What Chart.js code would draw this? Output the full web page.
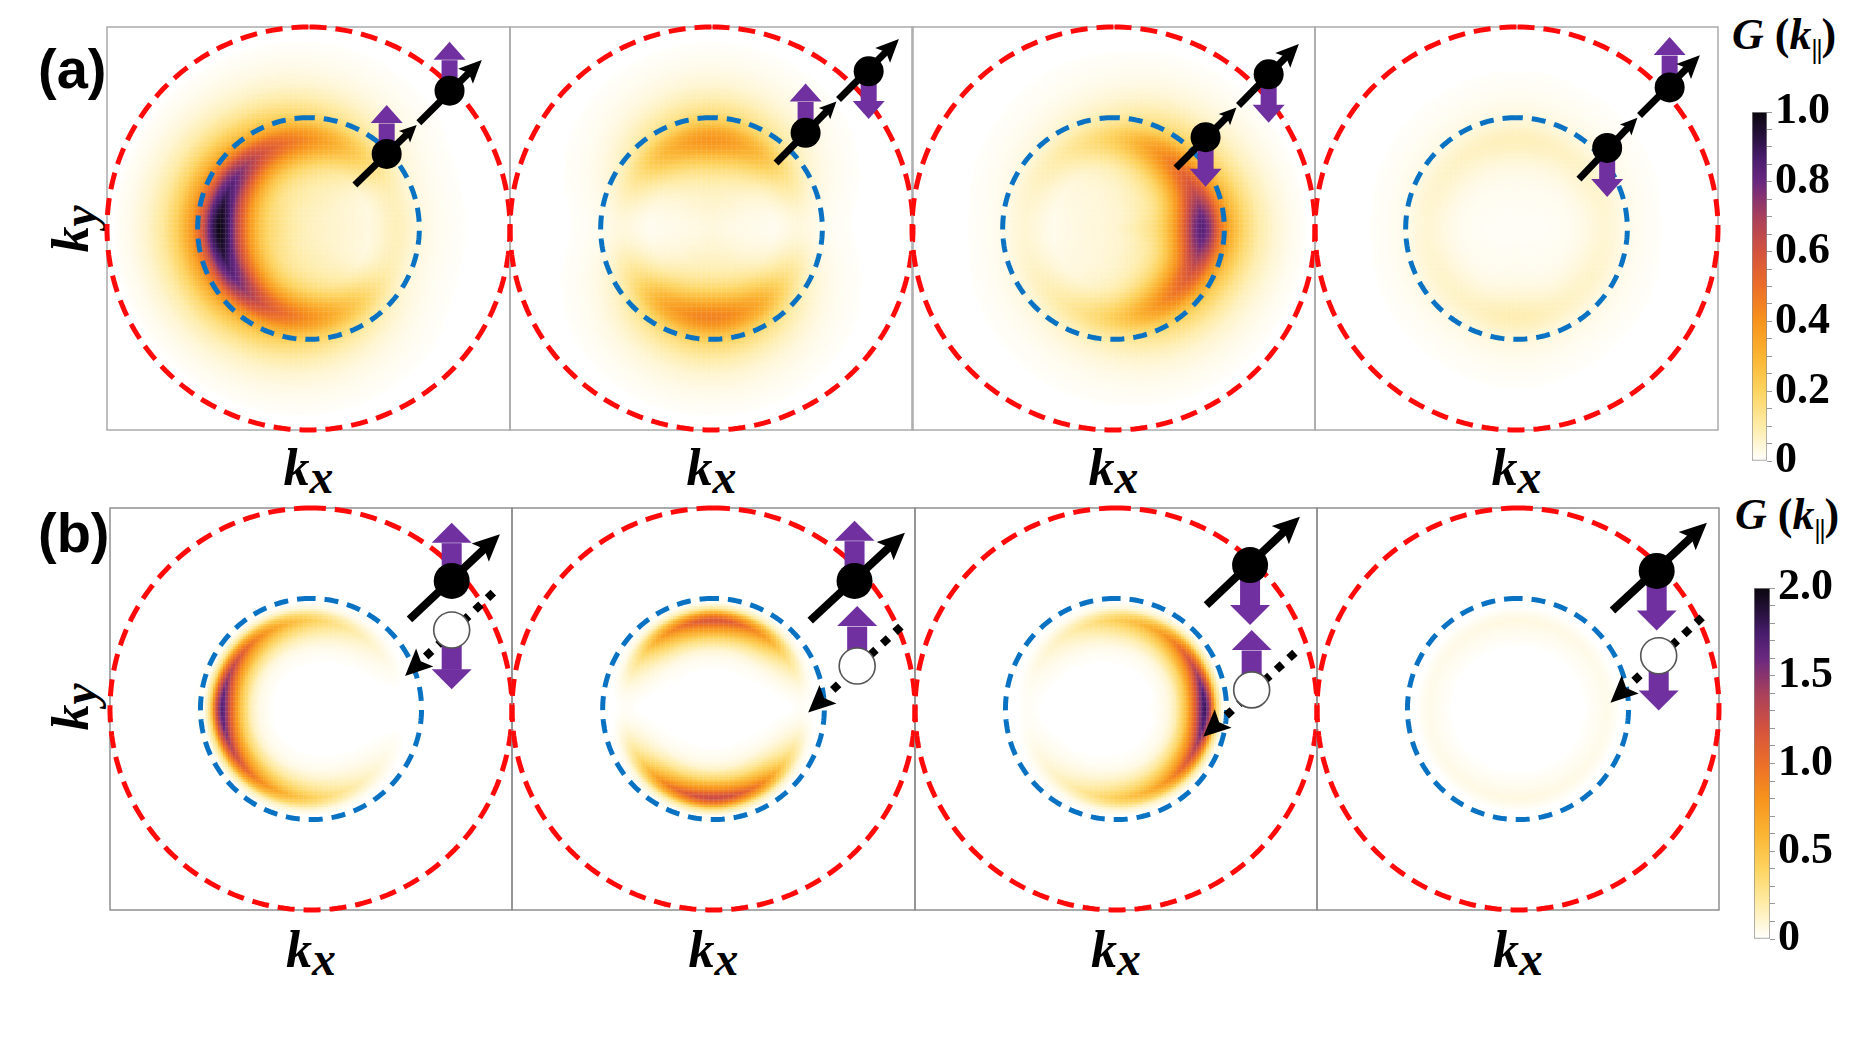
<!DOCTYPE html>
<html><head><meta charset="utf-8">
<script src="https://cdn.jsdelivr.net/npm/chart.js@4.4.1/dist/chart.umd.min.js"></script>
<style>
html,body{margin:0;padding:0;background:#fff;}
body{width:1863px;height:1058px;position:relative;overflow:hidden;}
canvas{position:absolute;}
.t{position:absolute;white-space:nowrap;color:#000;line-height:1;}
.pl{font-family:'Liberation Sans',Arial,sans-serif;font-weight:700;font-size:56px;}
.kk{font-family:'Liberation Serif','Times New Roman',serif;font-weight:700;font-style:italic;font-size:52px;}
.kk sub{font-size:0.92em;vertical-align:-0.16em;line-height:0;}
.gt{font-family:'Liberation Serif','Times New Roman',serif;font-weight:700;font-size:44px;}
.gt i{font-style:italic;}
.gt sub{font-size:0.62em;vertical-align:-0.32em;font-style:normal;line-height:0;letter-spacing:-1px;}
.probe{position:absolute;left:-999px;top:0;font-family:'Liberation Serif';font-weight:700;font-size:44px;}
</style></head><body>
<div class="probe">0.123456789</div>
<script>
// ================= DATA =================
const ANGLES_DEG = [0, 30, 60, 90, 120, 150, 180, 210, 240, 270, 300, 330];

// Row (a): G(k||) on the ring versus angle, colour-bar units (0 - 1)
const G_A1 = [0.08, 0.10, 0.25, 0.42, 0.60, 0.85, 1.00, 0.85, 0.60, 0.42, 0.25, 0.10];
const G_A2 = [0.04, 0.12, 0.30, 0.40, 0.30, 0.12, 0.04, 0.14, 0.35, 0.45, 0.35, 0.14];
const G_A3 = [0.85, 0.60, 0.40, 0.22, 0.12, 0.07, 0.05, 0.07, 0.12, 0.22, 0.40, 0.60];
const G_A4 = [0.05, 0.06, 0.07, 0.08, 0.07, 0.06, 0.05, 0.06, 0.07, 0.09, 0.07, 0.06];

// Row (b): G(k||) on the ring versus angle, colour-bar units (0 - 2)
const G_B1 = [0.00, 0.05, 0.20, 0.45, 0.80, 1.30, 1.75, 1.30, 0.80, 0.45, 0.20, 0.05];
const G_B2 = [0.02, 0.25, 0.85, 1.20, 0.85, 0.25, 0.02, 0.30, 0.95, 1.30, 0.95, 0.30];
const G_B3 = [1.85, 1.30, 0.75, 0.45, 0.20, 0.07, 0.02, 0.07, 0.20, 0.45, 0.75, 1.30];
const G_B4 = [0.05, 0.05, 0.06, 0.07, 0.06, 0.05, 0.05, 0.05, 0.06, 0.07, 0.06, 0.05];

// relative radial profile across the ring (|k| in units of the red circle radius)
const RADII_A  = [0, 0.10, 0.20, 0.25, 0.30, 0.35, 0.40, 0.44, 0.48, 0.52, 0.58, 0.65, 0.72, 0.80, 0.88, 0.95, 1.00];
const RADIAL_A = [0.16, 0.18, 0.23, 0.30, 0.42, 0.64, 0.90, 1.00, 0.88, 0.62, 0.38, 0.22, 0.12, 0.06, 0.025, 0.008, 0];
const RADII_B  = [0, 0.20, 0.26, 0.30, 0.35, 0.40, 0.44, 0.47, 0.50, 0.53, 0.60, 1.00];
const RADIAL_B = [0, 0.01, 0.04, 0.10, 0.30, 0.65, 1.00, 0.70, 0.20, 0.02, 0, 0];

// dashed circles (radius, kx/ky units)
const RED_R = 1.0;
const BLUE_R = 0.55;

// colour bars
const CBAR_A_MAX = 1.0, CBAR_A_STEP = 0.05, CBAR_A_LABEL_STEP = 0.2;
const CBAR_A_LABELS = ['0', '0.2', '0.4', '0.6', '0.8', '1.0'];
const CBAR_B_MAX = 2.0, CBAR_B_STEP = 0.1, CBAR_B_LABEL_STEP = 0.5;
const CBAR_B_LABELS = ['0', '0.5', '1.0', '1.5', '2.0'];

// schematic electrons (kx, ky units): momentum line [start, arrow tip 1, arrow tip 2], electrons, spin-arrow tip ky
const LINE_A1 = [[0.23, 0.216], [0.537, 0.514], [0.86, 0.836]];
const ELEC_A1 = [[0.388, 0.37], [0.70, 0.684]];
const SPIN_A1 = [0.613, 0.927];
const LINE_A2 = [[0.32, 0.325], [0.62, 0.63], [0.93, 0.94]];
const ELEC_A2 = [[0.467, 0.475], [0.78, 0.78]];
const SPIN_A2 = [0.72, 0.543];
const LINE_A3 = [[0.31, 0.30], [0.61, 0.60], [0.92, 0.916]];
const ELEC_A3 = [[0.457, 0.453], [0.77, 0.765]];
const SPIN_A3 = [0.207, 0.525];
const LINE_A4 = [[0.31, 0.245], [0.60, 0.55], [0.91, 0.86]];
const ELEC_A4 = [[0.45, 0.40], [0.76, 0.70]];
const SPIN_A4 = [0.156, 0.95];

// row (b): electron line [start, tip], electron, hole, dotted hole line [start, tip], spin tips [electron, hole]
const LINE_B1 = [[0.49, 0.446], [0.94, 0.87]];
const ELEC_B1 = [0.70, 0.637];
const HOLE_B1 = [0.70, 0.393];
const DOT_B1  = [[0.907, 0.579], [0.468, 0.164]];
const SPIN_B1 = [0.927, 0.098];
const LINE_B2 = [[0.48, 0.44], [0.95, 0.877]];
const ELEC_B2 = [0.70, 0.637];
const HOLE_B2 = [0.713, 0.214];
const DOT_B2  = [[0.93, 0.41], [0.47, -0.018]];
const SPIN_B2 = [0.937, 0.512];
const LINE_B3 = [[0.45, 0.517], [0.915, 0.957]];
const ELEC_B3 = [0.667, 0.716];
const HOLE_B3 = [0.675, 0.095];
const DOT_B3  = [[0.89, 0.28], [0.434, -0.138]];
const SPIN_B3 = [0.418, 0.393];
const LINE_B4 = [[0.47, 0.49], [0.94, 0.927]];
const ELEC_B4 = [0.69, 0.687];
const HOLE_B4 = [0.70, 0.265];
const DOT_B4  = [[0.916, 0.456], [0.46, 0.031]];
const SPIN_B4 = [0.39, -0.008];

// ================= STYLE / LAYOUT =================
const SERIF = "'Liberation Serif','Times New Roman',serif";
const CMAP = [
  [0.00, [255, 255, 254]], [0.10, [254, 236, 168]], [0.20, [253, 212, 96]],
  [0.30, [251, 180, 50]], [0.40, [247, 147, 28]], [0.50, [236, 110, 40]],
  [0.60, [212, 82, 62]], [0.70, [168, 64, 92]], [0.80, [106, 40, 128]],
  [0.87, [72, 28, 108]], [0.93, [40, 18, 62]], [1.00, [10, 6, 14]]
];
function cmap(t) {
  t = Math.min(1, Math.max(0, t));
  for (let i = 1; i < CMAP.length; i++) {
    if (t <= CMAP[i][0]) {
      const a = CMAP[i - 1], b = CMAP[i], f = (t - a[0]) / (b[0] - a[0]);
      const c = a[1].map((v, k) => Math.round(v + (b[1][k] - v) * f));
      return 'rgb(' + c.join(',') + ')';
    }
  }
  return 'rgb(' + CMAP[CMAP.length - 1][1].join(',') + ')';
}
function angular(vals, th) {          // periodic Catmull-Rom through the read angles
  const n = vals.length, step = 360 / n;
  const t = th / step, i = Math.floor(t), f = t - i;
  const p0 = vals[(i - 1 + n) % n], p1 = vals[i % n], p2 = vals[(i + 1) % n], p3 = vals[(i + 2) % n];
  return 0.5 * (2 * p1 + (-p0 + p2) * f + (2 * p0 - 5 * p1 + 4 * p2 - p3) * f * f + (-p0 + 3 * p1 - 3 * p2 + p3) * f * f * f);
}
function radialAt(xs, ys, r) {
  for (let i = 1; i < xs.length; i++) if (r <= xs[i]) {
    const f = (r - xs[i - 1]) / (xs[i] - xs[i - 1]);
    return ys[i - 1] + (ys[i] - ys[i - 1]) * f;
  }
  return 0;
}
function buildHeat(angW, radii, radial, vmax, N) {
  const pts = [], cols = [];
  const mean = angW.reduce((s, v) => s + v, 0) / angW.length;
  for (let i = 0; i < N; i++) for (let j = 0; j < N; j++) {
    const x = -1 + (i + 0.5) * 2 / N, y = -1 + (j + 0.5) * 2 / N, r = Math.hypot(x, y);
    if (r >= 1) continue;
    let th = Math.atan2(y, x) * 180 / Math.PI; if (th < 0) th += 360;
    const blend = Math.min(1, r / 0.3);
    const a = mean + (Math.max(0, angular(angW, th)) - mean) * blend;
    const v = a * radialAt(radii, radial, r);
    const t = v / vmax;
    if (t < 0.006) continue;
    pts.push({x, y}); cols.push(cmap(t));
  }
  return {pts, cols};
}
function ring(R) {
  const pts = [];
  for (let k = 0; k <= 240; k++) { const a = Math.PI / 2 + k * 2 * Math.PI / 240; pts.push({x: R * Math.cos(a), y: R * Math.sin(a)}); }
  return pts;
}

const framePlugin = color => ({
  id: 'frame',
  beforeDatasetsDraw(chart) {
    const {ctx, chartArea: a} = chart;
    ctx.save(); ctx.strokeStyle = color; ctx.lineWidth = 1.5;
    ctx.strokeRect(a.left, a.top, a.right - a.left, a.bottom - a.top); ctx.restore();
  }
});
function arrowLine(ctx, a, tip, L, W, dash) {
  const dx = tip[0] - a[0], dy = tip[1] - a[1], d = Math.hypot(dx, dy), ux = dx / d, uy = dy / d, nx = -uy, ny = ux;
  ctx.setLineDash(dash || []);
  ctx.beginPath(); ctx.moveTo(a[0], a[1]);
  ctx.lineTo(tip[0] - ux * L * (dash ? 1.05 : 0.6), tip[1] - uy * L * (dash ? 1.05 : 0.6)); ctx.stroke();
  ctx.setLineDash([]);
  const bx = tip[0] - ux * L, by = tip[1] - uy * L;
  ctx.beginPath(); ctx.moveTo(tip[0], tip[1]);
  ctx.lineTo(bx + nx * W / 2, by + ny * W / 2);
  ctx.lineTo(tip[0] - ux * L * 0.8, tip[1] - uy * L * 0.8);
  ctx.lineTo(bx - nx * W / 2, by - ny * W / 2);
  ctx.closePath(); ctx.fill();
}
function purple(ctx, base, tipY, hw, hh, sw) {
  const dir = tipY < base[1] ? -1 : 1, hb = tipY - dir * hh;
  ctx.fillStyle = '#7030a0';
  ctx.fillRect(base[0] - sw / 2, Math.min(base[1], hb - dir * 0.5), sw, Math.abs(hb - base[1]) + 0.5);
  ctx.beginPath(); ctx.moveTo(base[0], tipY); ctx.lineTo(base[0] - hw / 2, hb); ctx.lineTo(base[0] + hw / 2, hb); ctx.closePath(); ctx.fill();
}
function disc(ctx, c, r, fill, stroke) {
  ctx.beginPath(); ctx.arc(c[0], c[1], r, 0, 2 * Math.PI); ctx.fillStyle = fill; ctx.fill();
  if (stroke) { ctx.lineWidth = 1.6; ctx.strokeStyle = stroke; ctx.stroke(); }
}
function spinPlugin(row, p) {
  return {
    id: 'spin',
    afterDatasetsDraw(chart) {
      const ctx = chart.ctx, sx = chart.scales.x, sy = chart.scales.y;
      const P = a => [sx.getPixelForValue(a[0]), sy.getPixelForValue(a[1])];
      ctx.save(); ctx.lineCap = 'butt';
      if (row === 'a') {
        p.elec.forEach((e, k) => purple(ctx, P(e), sy.getPixelForValue(p.spin[k]), 32, 18, 16));
        const L = p.line.map(P);
        ctx.fillStyle = '#000'; ctx.strokeStyle = '#000'; ctx.lineWidth = 7;
        arrowLine(ctx, L[0], L[1], 17, 16);
        const dx = L[2][0] - L[1][0], dy = L[2][1] - L[1][1], d = Math.hypot(dx, dy);
        arrowLine(ctx, [L[1][0] + dx / d * 3, L[1][1] + dy / d * 3], L[2], 23, 21);
        p.elec.forEach(e => disc(ctx, P(e), 15, '#000'));
      } else {
        const E = P(p.elec), H = P(p.hole);
        purple(ctx, E, sy.getPixelForValue(p.spin[0]), 40, 20, 20);
        purple(ctx, H, sy.getPixelForValue(p.spin[1]), 40, 20, 20);
        const L = p.line.map(P), D = p.dot.map(P);
        ctx.fillStyle = '#000'; ctx.strokeStyle = '#000'; ctx.lineWidth = 8;
        arrowLine(ctx, L[0], L[1], 27, 25);
        ctx.fillStyle = '#000';
        arrowLine(ctx, D[0], D[1], 27, 25, [8, 9]);
        disc(ctx, E, 18, '#000');
        disc(ctx, H, 18, '#fff', '#555');
      }
      ctx.restore();
    }
  };
}

const PAD = 14, GRID_N = 160;
function makePanel(row, p, vmax, radii, radial, frameColor) {
  const [bx, by, bw, bh] = p.box;
  const cv = document.createElement('canvas');
  cv.width = bw + 2 * PAD; cv.height = bh + 2 * PAD;
  cv.style.width = cv.width + 'px'; cv.style.height = cv.height + 'px';
  cv.style.left = (bx - PAD) + 'px'; cv.style.top = (by - PAD) + 'px';
  document.body.appendChild(cv);
  const heat = buildHeat(p.G, radii, radial, vmax, GRID_N);
  const pr = (bw / GRID_N) * 0.8;
  const chart = new Chart(cv, {
    type: 'scatter',
    data: {datasets: [
      {data: heat.pts, pointStyle: 'rect', pointRadius: pr, pointBackgroundColor: heat.cols, pointBorderWidth: 0, showLine: false, order: 3},
      {data: ring(RED_R), showLine: true, borderColor: '#ff0a0a', borderWidth: 5, borderDash: [17, 9], pointRadius: 0, tension: 0, order: 2, clip: false},
      {data: ring(BLUE_R), showLine: true, borderColor: '#0a72c2', borderWidth: 5, borderDash: [14, 9], pointRadius: 0, tension: 0, order: 1, clip: false}
    ]},
    options: {
      responsive: false, animation: false, events: [], devicePixelRatio: 1,
      layout: {padding: PAD},
      scales: {x: {type: 'linear', min: -1, max: 1, display: false}, y: {type: 'linear', min: -1, max: 1, display: false}},
      plugins: {legend: {display: false}, tooltip: {enabled: false}}
    },
    plugins: [framePlugin(frameColor), spinPlugin(row, p)]
  });
  const ca = chart.chartArea;
  cv.style.left = (bx - ca.left) + 'px'; cv.style.top = (by - ca.top) + 'px';
}
function makeCbar(box, vmax, step, labelStep, labels) {
  const [bx, by, bw, bh] = box, AX = 85, PT = 30;
  const cv = document.createElement('canvas');
  cv.width = 2 + bw + AX; cv.height = bh + 2 * PT;
  cv.style.width = cv.width + 'px'; cv.style.height = cv.height + 'px';
  cv.style.left = (bx - 2) + 'px'; cv.style.top = (by - PT) + 'px';
  document.body.appendChild(cv);
  const chart = new Chart(cv, {
    type: 'bar',
    data: {labels: [''], datasets: [{
      data: [[0, vmax]],
      backgroundColor: c => {
        const ca = c.chart.chartArea; if (!ca) return '#fff';
        const g = c.chart.ctx.createLinearGradient(0, ca.bottom, 0, ca.top);
        CMAP.forEach(s => g.addColorStop(s[0], 'rgb(' + s[1].join(',') + ')'));
        return g;
      },
      borderColor: '#8c8c8c', borderWidth: 1, borderSkipped: false, barPercentage: 1, categoryPercentage: 1
    }]},
    options: {
      responsive: false, animation: false, events: [], devicePixelRatio: 1,
      layout: {padding: {left: 2, right: 0, top: PT, bottom: PT}},
      scales: {
        x: {display: false},
        y: {position: 'right', min: 0, max: vmax, afterFit: s => { s.width = AX; },
          ticks: {stepSize: step, autoSkip: false, padding: 3, color: '#000',
            font: {family: SERIF, weight: 'bold', size: 44},
            callback: v => { const k = Math.round(v / labelStep); return Math.abs(v - k * labelStep) < 1e-6 ? labels[k] : ''; }},
          grid: {drawOnChartArea: false, drawTicks: true, tickLength: 5, color: '#9a9a9a', lineWidth: 1},
          border: {display: false}}
      },
      plugins: {legend: {display: false}, tooltip: {enabled: false}}
    }
  });
  const ca = chart.chartArea;
  cv.style.left = (bx - ca.left) + 'px'; cv.style.top = (by - ca.top) + 'px';
}

const PANELS_A = [
  {box: [107, 27, 403, 403], G: G_A1, line: LINE_A1, elec: ELEC_A1, spin: SPIN_A1},
  {box: [510, 27, 403, 403], G: G_A2, line: LINE_A2, elec: ELEC_A2, spin: SPIN_A2},
  {box: [912, 27, 403, 403], G: G_A3, line: LINE_A3, elec: ELEC_A3, spin: SPIN_A3},
  {box: [1315, 27, 403, 403], G: G_A4, line: LINE_A4, elec: ELEC_A4, spin: SPIN_A4}
];
const PANELS_B = [
  {box: [110, 508, 402, 402], G: G_B1, line: LINE_B1, elec: ELEC_B1, hole: HOLE_B1, dot: DOT_B1, spin: SPIN_B1},
  {box: [512, 508, 403, 402], G: G_B2, line: LINE_B2, elec: ELEC_B2, hole: HOLE_B2, dot: DOT_B2, spin: SPIN_B2},
  {box: [915, 508, 402, 402], G: G_B3, line: LINE_B3, elec: ELEC_B3, hole: HOLE_B3, dot: DOT_B3, spin: SPIN_B3},
  {box: [1317, 508, 402, 402], G: G_B4, line: LINE_B4, elec: ELEC_B4, hole: HOLE_B4, dot: DOT_B4, spin: SPIN_B4}
];

// ================= TEXT (created first so the serif face is in use before canvas drawing) =================
function addText(html, cls, left, top, transform) {
  const d = document.createElement('div');
  d.className = 't ' + cls; d.innerHTML = html;
  d.style.left = left + 'px'; d.style.top = top + 'px';
  if (transform) d.style.transform = transform;
  document.body.appendChild(d);
  return d;
}
addText('(a)', 'pl', 38, 40.6);
addText('(b)', 'pl', 38, 504.6);
PANELS_A.forEach(p => addText('k<sub>x</sub>', 'kk', p.box[0] + p.box[2] / 2, 441.5, 'translateX(-50%)'));
PANELS_B.forEach(p => addText('k<sub>x</sub>', 'kk', p.box[0] + p.box[2] / 2, 923.5, 'translateX(-50%)'));
addText('k<sub>y</sub>', 'kk', 70.5, 228.5, 'translate(-50%,-50%) rotate(-90deg)');
addText('k<sub>y</sub>', 'kk', 71, 707, 'translate(-50%,-50%) rotate(-90deg)');
addText('<i>G</i> (<i>k</i><sub>||</sub>)', 'gt', 1732, 13);
const lastText = addText('<i>G</i> (<i>k</i><sub>||</sub>)', 'gt', 1735, 493);
void lastText.offsetWidth; void document.querySelector('.probe').offsetWidth;

// ================= CHARTS =================
PANELS_A.forEach(p => makePanel('a', p, CBAR_A_MAX, RADII_A, RADIAL_A, '#ababab'));
PANELS_B.forEach(p => makePanel('b', p, CBAR_B_MAX, RADII_B, RADIAL_B, '#8f8f8f'));
makeCbar([1752, 112, 15, 349], CBAR_A_MAX, CBAR_A_STEP, CBAR_A_LABEL_STEP, CBAR_A_LABELS);
makeCbar([1754, 588, 16, 351], CBAR_B_MAX, CBAR_B_STEP, CBAR_B_LABEL_STEP, CBAR_B_LABELS);
</script>
</body></html>
